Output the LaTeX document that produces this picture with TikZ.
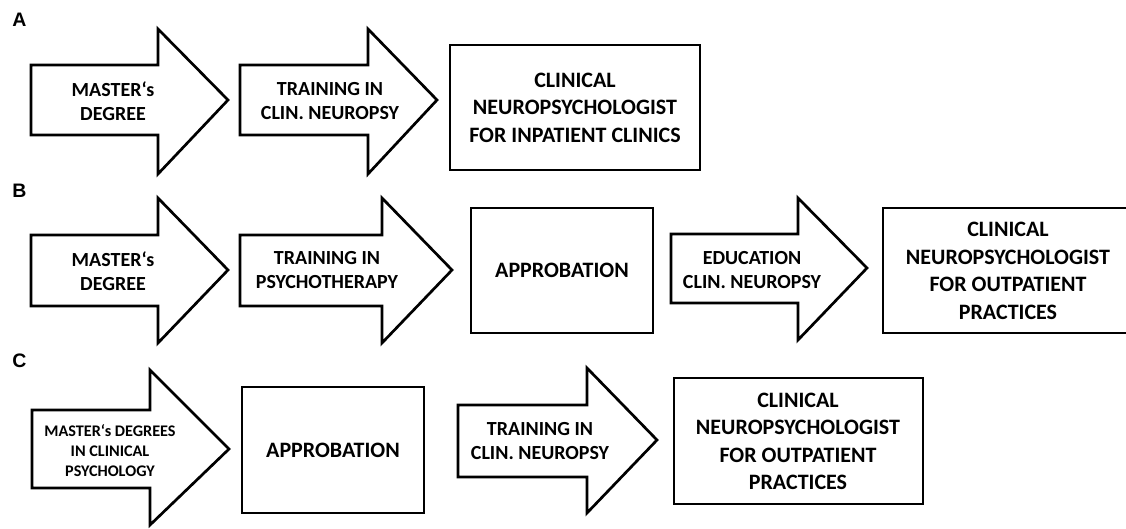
\documentclass[tikz,border=0pt]{standalone}
\usepackage{fontspec}
\setmainfont{Carlito}
\newfontfamily\labelfont{Liberation Sans}
\begin{document}
\begin{tikzpicture}[x=1pt,y=-1pt]
\tikzset{
  outline/.style={draw=black, line width=2.7pt, line join=miter, fill=white},
  boxnode/.style={outline, inner sep=0pt},
  boxtext/.style={font=\bfseries\fontsize{22}{27.5}\selectfont, align=center, inner sep=0pt},
  arrowtext/.style={font=\bfseries\fontsize{20}{24}\selectfont, align=center, inner sep=0pt},
  smallarrowtext/.style={font=\bfseries\fontsize{16.2}{20}\selectfont, align=center, inner sep=0pt},
  paneltag/.style={font=\labelfont\bfseries\fontsize{19.5}{19.5}\selectfont, inner sep=0pt},
}
\useasboundingbox[fill=white] (0,0) rectangle (1126,529);

% ---------- Panel A ----------
\node[paneltag] (tagA) at (19.5,20) {A};
\draw[outline] (31,65) -- (158,65) -- (158,29) -- (228,100) -- (158,174) -- (158,135) -- (31,135) -- cycle;
\node[arrowtext] (a1) at (113,101) {MASTER‘s\\DEGREE};
\draw[outline] (240,65) -- (368,65) -- (368,29) -- (437,100) -- (368,174) -- (368,135) -- (240,135) -- cycle;
\node[arrowtext] (a2) at (330,101) {TRAINING IN\\CLIN. NEUROPSY};
\node[boxnode, minimum width=250pt, minimum height=125pt] (a3box) at (575,107.5) {};
\node[boxtext] (a3) at (a3box.center) {CLINICAL\\NEUROPSYCHOLOGIST\\FOR INPATIENT CLINICS};

% ---------- Panel B ----------
\node[paneltag] (tagB) at (19.5,191) {B};
\draw[outline] (31,235) -- (158,235) -- (158,198) -- (228,270) -- (158,343) -- (158,306) -- (31,306) -- cycle;
\node[arrowtext] (b1) at (113,271.5) {MASTER‘s\\DEGREE};
\draw[outline] (240,235) -- (382,235) -- (382,198) -- (452,270) -- (382,343) -- (382,306) -- (240,306) -- cycle;
\node[arrowtext] (b2) at (327,270) {TRAINING IN\\PSYCHOTHERAPY};
\node[boxnode, minimum width=182pt, minimum height=125pt] (b3box) at (562,270.5) {};
\node[boxtext] (b3) at (b3box.center) {APPROBATION};
\draw[outline] (671,234) -- (798,234) -- (798,198) -- (867,268) -- (798,340) -- (798,303) -- (671,303) -- cycle;
\node[arrowtext] (b4) at (752,270) {EDUCATION\\CLIN. NEUROPSY};
\node[boxnode, minimum width=248pt, minimum height=125pt] (b5box) at (1007,270.5) {};
\node[boxtext] (b5) at (1008,271) {CLINICAL\\NEUROPSYCHOLOGIST\\FOR OUTPATIENT\\PRACTICES};

% ---------- Panel C ----------
\node[paneltag] (tagC) at (19.5,361) {C};
\draw[outline] (32,410) -- (150,410) -- (150,370) -- (229,449) -- (150,525) -- (150,488) -- (32,488) -- cycle;
\node[smallarrowtext] (c1) at (110,451) {MASTER‘s DEGREES\\IN CLINICAL\\PSYCHOLOGY};
\node[boxnode, minimum width=182pt, minimum height=126pt] (c2box) at (333,450) {};
\node[boxtext] (c2) at (c2box.center) {APPROBATION};
\draw[outline] (458,405) -- (587,405) -- (587,368) -- (657,440) -- (587,513) -- (587,477) -- (458,477) -- cycle;
\node[arrowtext] (c3) at (540,441.5) {TRAINING IN\\CLIN. NEUROPSY};
\node[boxnode, minimum width=249pt, minimum height=126pt] (c4box) at (798.5,441) {};
\node[boxtext] (c4) at (798,441.5) {CLINICAL\\NEUROPSYCHOLOGIST\\FOR OUTPATIENT\\PRACTICES};
\end{tikzpicture}
\end{document}
